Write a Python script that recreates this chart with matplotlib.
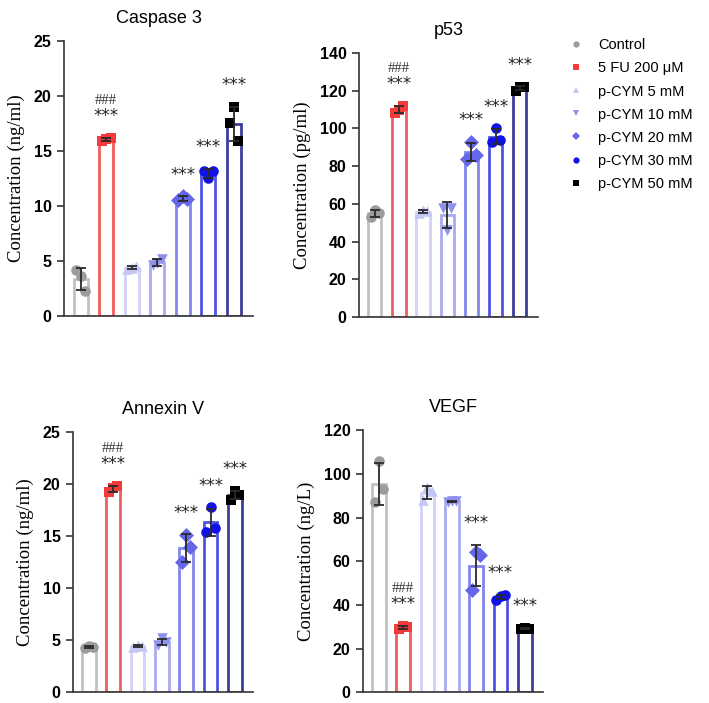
import numpy as np
import matplotlib.pyplot as plt
from matplotlib.lines import Line2D

groups = ["Control", "5 FU 200 \u03bcM", "p-CYM 5 mM", "p-CYM 10 mM",
          "p-CYM 20 mM", "p-CYM 30 mM", "p-CYM 50 mM"]

caspase3 = [[4.2, 3.6, 2.3], [15.9, 16.1, 16.2], [4.3, 4.4, 4.5], [4.6, 4.8, 5.2],
            [10.5, 10.9, 10.6], [13.2, 12.5, 13.2], [17.5, 19.0, 15.9]]
p53 = [[53.0, 57.0, 55.0], [108.0, 110.0, 112.0], [55.0, 56.5, 56.0], [58.0, 46.0, 58.0],
       [84.0, 93.0, 86.0], [93.0, 100.0, 94.0], [120.0, 122.0, 122.0]]
annexin = [[4.3, 4.5, 4.4], [19.2, 19.6, 19.8], [4.4, 4.6, 4.5], [4.6, 5.2, 4.8],
           [12.5, 15.1, 14.0], [15.4, 17.8, 15.8], [18.5, 19.3, 19.0]]
vegf = [[87.0, 106.0, 93.0], [29.0, 30.5, 30.0], [88.0, 94.0, 92.0], [87.0, 87.5, 87.5],
        [47.0, 64.0, 63.0], [42.5, 44.0, 44.5], [29.0, 29.5, 29.0]]

titles = ["Caspase 3", "p53", "Annexin V", "VEGF"]
ylabels = ["Concentration (ng/ml)", "Concentration (pg/ml)",
           "Concentration (ng/ml)", "Concentration (ng/L)"]
ymax = [25, 140, 25, 120]
ysteps = [5, 20, 5, 20]
stars = ["", "***", "", "", "***", "***", "***"]
hashes = ["", "###", "", "", "", "", ""]

markers = ["o", "s", "^", "v", "D", "o", "s"]
point_colors = ["#9c9c9c", "#f23b3b", "#c4c7f3", "#8e91ee", "#6467e9", "#1212e8", "#000000"]
bar_colors = ["#c2c2c2", "#f25c5c", "#d0d2f7", "#a9abf1", "#8386eb", "#4f53e2", "#3b3d9c"]

fig = plt.figure(figsize=(7.09, 7.03), dpi=100)
positions = [[0.0903, 0.5505, 0.2667, 0.3912],
             [0.5063, 0.5490, 0.2525, 0.3756],
             [0.1030, 0.0150, 0.2540, 0.3705],
             [0.5120, 0.0150, 0.2540, 0.3733]]
datasets = [caspase3, p53, annexin, vegf]
offsets = np.array([-0.17, 0.0, 0.17])

for i, data in enumerate(datasets):
    ax = fig.add_axes(positions[i])
    vals = np.array(data)
    means = vals.mean(axis=1)
    sds = vals.std(axis=1, ddof=1)
    x = np.arange(len(groups))
    ax.bar(x, means, width=0.55, facecolor="none", edgecolor=bar_colors,
           linewidth=2, zorder=2)
    for j in range(len(groups)):
        ax.scatter(x[j] + offsets, vals[j], marker=markers[j], s=58,
                   color=point_colors[j], zorder=3, linewidths=0)
    ax.errorbar(x, means, yerr=sds, fmt="none", ecolor="#2a2a2a",
                elinewidth=1.3, capsize=3.5, capthick=1.3, zorder=4)
    for j in range(len(groups)):
        top = max(vals[j].max(), means[j] + sds[j])
        if stars[j]:
            ax.annotate(stars[j], (x[j], top), xytext=(0, 9),
                        textcoords="offset points", ha="center", va="bottom",
                        fontsize=12, color="#222222")
        if hashes[j]:
            ax.annotate(hashes[j], (x[j], top), xytext=(0, 22),
                        textcoords="offset points", ha="center", va="bottom",
                        fontsize=10.5, family="Liberation Serif", color="#333333")
    ax.set_xlim(-0.65, 6.75)
    ax.set_ylim(0, ymax[i])
    ax.set_yticks(np.arange(0, ymax[i] + 1, ysteps[i]))
    ax.set_xticks([])
    for lab in ax.get_yticklabels():
        lab.set_fontweight("bold")
        lab.set_family("Liberation Sans")
        lab.set_fontsize(11.5)
    ax.tick_params(axis="y", length=5, width=1.2, color="#333333", pad=4)
    for s in ["top", "right"]:
        ax.spines[s].set_visible(False)
    for s in ["left", "bottom"]:
        ax.spines[s].set_color("#333333")
        ax.spines[s].set_linewidth(1.2)
    ax.set_title(titles[i], fontsize=13, family="Liberation Sans", pad=13)
    ax.set_ylabel(ylabels[i], fontsize=13.5, family="Liberation Serif", labelpad=6)

handles = [Line2D([], [], marker=markers[j], linestyle="none", markersize=4.5,
                  color=point_colors[j], markeredgewidth=0) for j in range(len(groups))]
fig.legend(handles, groups, loc="upper left", bbox_to_anchor=(0.782, 0.964),
           frameon=False, prop={"family": "Liberation Sans", "size": 10.5},
           labelspacing=0.62, handletextpad=0.9, handlelength=1.2)

fig.savefig("out.png", dpi=100)
